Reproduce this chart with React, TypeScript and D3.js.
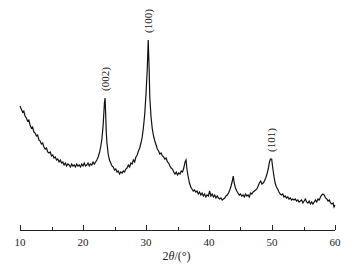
import * as d3 from 'd3';
import React from 'react';

// XRD pattern: [2theta (deg), intensity (a.u.)]
const pattern: [number, number][] = [
  [10.0, 123], [10.2, 120], [10.4, 117], [10.6, 118], [10.8, 113], [11.0, 111],
  [11.2, 108], [11.4, 109], [11.6, 104], [11.8, 101], [12.0, 102], [12.2, 97],
  [12.4, 96], [12.6, 93], [12.8, 94], [13.0, 89], [13.2, 88], [13.4, 85],
  [13.6, 86], [13.8, 82], [14.0, 80], [14.2, 81], [14.4, 77], [14.6, 76],
  [14.8, 77], [15.0, 73], [15.2, 74], [15.4, 71], [15.6, 72], [15.8, 69],
  [16.0, 70], [16.2, 67], [16.4, 69], [16.6, 66], [16.8, 67], [17.0, 64],
  [17.2, 66], [17.4, 63], [17.6, 65], [17.8, 64], [18.0, 62], [18.2, 65],
  [18.4, 63], [18.6, 64], [18.8, 62], [19.0, 65], [19.2, 63], [19.4, 64],
  [19.6, 62], [19.8, 65], [20.0, 63], [20.2, 66], [20.4, 63], [20.6, 64],
  [20.8, 66], [21.0, 63], [21.2, 65], [21.4, 64], [21.6, 67], [21.8, 65],
  [22.0, 67], [22.2, 69], [22.4, 72], [22.6, 76], [22.8, 82], [23.0, 90],
  [23.2, 104], [23.4, 126], [23.5, 131], [23.6, 115], [23.7, 96], [23.8, 86],
  [24.0, 75], [24.2, 69], [24.4, 66], [24.6, 63], [24.8, 62], [25.0, 59],
  [25.2, 60], [25.4, 57], [25.6, 58], [25.8, 55], [26.0, 57], [26.2, 56],
  [26.4, 58], [26.6, 57], [26.8, 60], [27.0, 61], [27.2, 64], [27.4, 62],
  [27.6, 66], [27.8, 65], [28.0, 69], [28.2, 67], [28.4, 72], [28.6, 74],
  [28.8, 78], [29.0, 81], [29.2, 86], [29.4, 92], [29.6, 102], [29.8, 115],
  [30.0, 135], [30.2, 160], [30.35, 189], [30.5, 160], [30.6, 132], [30.8, 112],
  [31.0, 100], [31.2, 93], [31.4, 88], [31.6, 84], [31.8, 80], [32.0, 78],
  [32.2, 75], [32.4, 76], [32.6, 73], [32.8, 72], [33.0, 70], [33.2, 71],
  [33.4, 67], [33.6, 66], [33.8, 63], [34.0, 61], [34.2, 60], [34.4, 57],
  [34.6, 55], [34.8, 57], [35.0, 54], [35.2, 56], [35.4, 55], [35.6, 58],
  [35.8, 57], [36.0, 61], [36.2, 67], [36.35, 69], [36.5, 60], [36.7, 52],
  [36.9, 46], [37.1, 42], [37.3, 40], [37.5, 38], [37.7, 39], [37.9, 37],
  [38.1, 38], [38.3, 35], [38.5, 37], [38.7, 34], [38.9, 36], [39.1, 33],
  [39.3, 35], [39.5, 32], [39.7, 34], [39.9, 33], [40.1, 38], [40.3, 33],
  [40.5, 35], [40.7, 32], [40.9, 34], [41.1, 31], [41.3, 33], [41.5, 31],
  [41.7, 30], [41.9, 31], [42.1, 29], [42.3, 30], [42.5, 31], [42.7, 33],
  [42.9, 34], [43.1, 36], [43.3, 39], [43.5, 43], [43.7, 48], [43.85, 53],
  [44.0, 46], [44.2, 41], [44.4, 38], [44.6, 36], [44.8, 34], [45.0, 35],
  [45.2, 33], [45.4, 34], [45.6, 32], [45.8, 35], [46.0, 33], [46.2, 34],
  [46.4, 32], [46.6, 36], [46.8, 35], [47.0, 37], [47.2, 38], [47.4, 39],
  [47.6, 40], [47.8, 43], [48.0, 46], [48.2, 48], [48.4, 45], [48.6, 46],
  [48.8, 48], [49.0, 51], [49.2, 55], [49.4, 60], [49.6, 67], [49.75, 70],
  [49.95, 70], [50.1, 62], [50.3, 53], [50.5, 46], [50.7, 42], [50.9, 40],
  [51.1, 37], [51.3, 35], [51.5, 34], [51.7, 35], [51.9, 32], [52.1, 33],
  [52.3, 31], [52.5, 32], [52.7, 30], [52.9, 31], [53.1, 29], [53.3, 30],
  [53.5, 29], [53.7, 30], [53.9, 28], [54.1, 29], [54.3, 27], [54.5, 28],
  [54.7, 29], [54.9, 26], [55.1, 28], [55.3, 30], [55.5, 27], [55.7, 26],
  [55.9, 28], [56.1, 25], [56.3, 27], [56.5, 25], [56.7, 27], [56.9, 29],
  [57.1, 27], [57.3, 30], [57.5, 29], [57.7, 32], [57.9, 34], [58.1, 35],
  [58.3, 34], [58.5, 31], [58.7, 30], [58.9, 28], [59.1, 29], [59.3, 26],
  [59.5, 25], [59.7, 26], [59.85, 22], [60.0, 24],
];

const peakLabels = ['(002)', '(100)', '(101)'];
const peakPositions = [23.5, 30.35, 49.85];
const peakHeights = [131, 189, 70];

const majorTicks = [10, 20, 30, 40, 50, 60];
const minorTicks = [15, 25, 35, 45, 55];

const W = 353;
const H = 271;
const axisY = 230;
const font = '"Liberation Serif", "Times New Roman", serif';

const App: React.FC = () => {
  const x = d3.scaleLinear().domain([10, 60]).range([20, 335]);
  const y = d3.scaleLinear().domain([0, 200]).range([229, 29]);

  const line = d3
    .line<[number, number]>()
    .x((d) => x(d[0]))
    .y((d) => y(d[1]));

  return (
    <div style={{ position: 'absolute', left: 0, top: 0 }}>
      <svg width={W} height={H} style={{ display: 'block', background: 'white' }}>
        <path d={line(pattern) || ''} fill='none' stroke='#111' strokeWidth={1.2} />

        {peakLabels.map((lab, i) => {
          const px = x(peakPositions[i]);
          const py = y(peakHeights[i]) - 7;
          return (
            <text
              key={lab}
              transform={`translate(${px},${py}) rotate(-90)`}
              dy='0.35em'
              textAnchor='start'
              fontFamily={font}
              fontSize={11}
              fill='#222'
            >
              {lab}
            </text>
          );
        })}

        <g stroke='#222' strokeWidth={1}>
          <line x1={x(10)} x2={x(60)} y1={axisY + 0.5} y2={axisY + 0.5} />
          {majorTicks.map((t) => (
            <line key={t} x1={Math.round(x(t)) + 0.5} x2={Math.round(x(t)) + 0.5} y1={axisY} y2={axisY - 5} />
          ))}
          {minorTicks.map((t) => (
            <line key={t} x1={Math.round(x(t)) + 0.5} x2={Math.round(x(t)) + 0.5} y1={axisY} y2={axisY - 3} />
          ))}
        </g>
        {majorTicks.map((t) => (
          <text
            key={t}
            x={x(t)}
            y={axisY + 16}
            textAnchor='middle'
            fontFamily={font}
            fontSize={11}
            fill='#222'
          >
            {t}
          </text>
        ))}
        <text
          x={x(35) - 1}
          y={axisY + 30}
          textAnchor='middle'
          fontFamily={font}
          fontSize={12}
          fill='#222'
        >
          2<tspan fontStyle='italic'>θ</tspan>/(°)
        </text>
      </svg>
    </div>
  );
};

export default App;
